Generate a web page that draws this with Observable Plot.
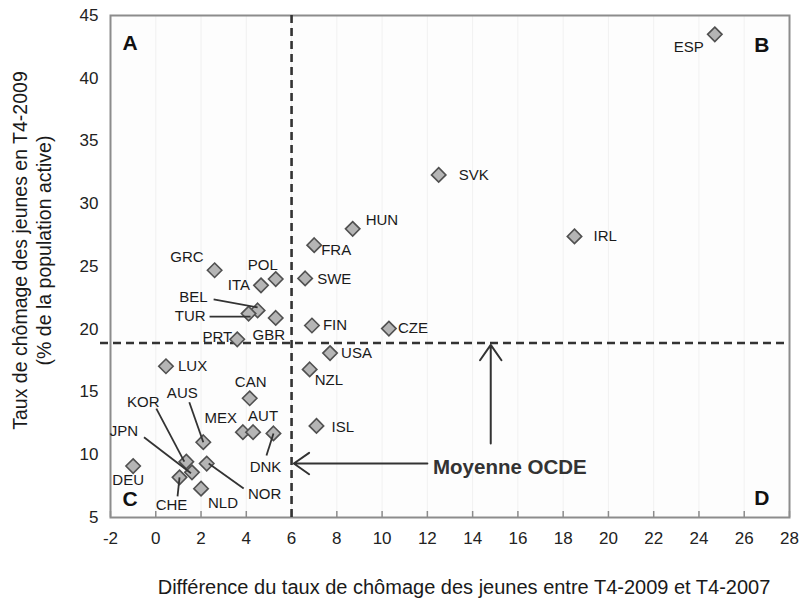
<!DOCTYPE html>
<html>
<head>
<meta charset="utf-8">
<script src="https://cdn.jsdelivr.net/npm/d3@7"></script>
<script src="https://cdn.jsdelivr.net/npm/@observablehq/plot@0.6"></script>
<style>
  html, body { margin: 0; padding: 0; background: #ffffff; }
  #chart { width: 799px; height: 602px; }
</style>
</head>
<body>
<div id="chart"></div>
<script>
// ---- Data ----
const countries = ["ESP","SVK","IRL","HUN","FRA","SWE","POL","ITA","GRC","BEL","TUR","GBR","PRT","FIN","CZE","USA","NZL","LUX","CAN","MEX","AUT","DNK","AUS","KOR","NOR","JPN","CHE","NLD","DEU","ISL"];
const change2007to2009 = [24.7,12.5,18.5,8.7,7.0,6.6,5.3,4.65,2.6,4.5,4.1,5.3,3.6,6.9,10.3,7.7,6.8,0.45,4.15,3.85,4.3,5.2,2.1,1.35,2.25,1.6,1.05,2.0,-1.0,7.1];
const youthRate2009 = [43.5,32.3,27.4,28.0,26.7,24.05,24.0,23.5,24.7,21.5,21.25,20.9,19.2,20.3,20.05,18.1,16.8,17.05,14.5,11.8,11.8,11.7,11.0,9.45,9.3,8.6,8.2,7.3,9.1,12.3];
const oecdMeanChange = 6.0;
const oecdMeanRate = 18.9;
const xTicks = [-2,0,2,4,6,8,10,12,14,16,18,20,22,24,26,28];
const yTicks = [5,10,15,20,25,30,35,40,45];
const quadrantLetters = ["A","B","C","D"];
const xTitle = "Différence du taux de chômage des jeunes entre T4-2009 et T4-2007";
const yTitle = "Taux de chômage des jeunes en T4-2009\n(% de la population active)";
const meanLabel = "Moyenne OCDE";
// annotation arrows (data units)
const meanArrows = [
  {x1: 12.0, y1: 9.3, x2: 6.1, y2: 9.3},
  {x1: 14.8, y1: 10.9, x2: 14.8, y2: 18.75}
];
const meanLabelPos = [{x: 12.25, y: 9.0}];

// ---- Layout / style (pixel offsets for labels) ----
const W = 799, H = 602, ML = 110, MR = 10, MT = 15, MB = 85;
const labelStyle = {
  ESP:{a:"end",dx:-11,dy:13}, SVK:{a:"start",dx:20,dy:0}, IRL:{a:"start",dx:19,dy:0},
  HUN:{a:"start",dx:13,dy:-9}, FRA:{a:"start",dx:7,dy:5}, SWE:{a:"start",dx:12,dy:1},
  POL:{a:"middle",dx:-13,dy:-14}, ITA:{a:"end",dx:-11,dy:0}, GRC:{a:"end",dx:-11,dy:-13},
  GBR:{a:"middle",dx:-7,dy:17}, PRT:{a:"end",dx:-5,dy:-2}, FIN:{a:"start",dx:11,dy:0},
  CZE:{a:"start",dx:9,dy:0}, USA:{a:"start",dx:11,dy:0}, NZL:{a:"start",dx:5,dy:11},
  LUX:{a:"start",dx:12,dy:0}, CAN:{a:"middle",dx:1,dy:-16}, MEX:{a:"end",dx:-6,dy:-14},
  AUT:{a:"middle",dx:10,dy:-16}, ISL:{a:"start",dx:15,dy:1}, NLD:{a:"start",dx:7,dy:15},
  DEU:{a:"middle",dx:-5,dy:14},
  BEL:{a:"end",dx:-50,dy:-13,l:[-44,-11,0,-3]}, TUR:{a:"end",dx:-43,dy:3,l:[-39,3,2,3]},
  DNK:{a:"middle",dx:-8,dy:34,l:[-7,22,0,0]}, AUS:{a:"middle",dx:-21,dy:-49,l:[-14,-40,0,0]},
  KOR:{a:"middle",dx:-43,dy:-59,l:[-30,-53,-2,0]}, JPN:{a:"middle",dx:-68,dy:-41,l:[-48,-35,-1,1]},
  CHE:{a:"middle",dx:-8,dy:28,l:[-2,19,0,0]}, NOR:{a:"middle",dx:58,dy:31,l:[37,25,2,0]}
};

const sx = Plot.scale({x: {domain: [-2, 28], range: [ML, W - MR]}});
const sy = Plot.scale({y: {domain: [5, 45], range: [H - MB, MT]}});
const px = (v, d) => sx.invert(sx.apply(v) + d);
const py = (v, d) => sy.invert(sy.apply(v) + d);

const pts = countries.map((c, i) => ({c, x: change2007to2009[i], y: youthRate2009[i]}));
const labels = pts.map(p => {
  const s = labelStyle[p.c];
  return {c: p.c, a: s.a, x: px(p.x, s.dx), y: py(p.y, s.dy)};
});
const leaders = pts.filter(p => labelStyle[p.c].l).map(p => {
  const l = labelStyle[p.c].l;
  return {x1: px(p.x, l[0]), y1: py(p.y, l[1]), x2: px(p.x, l[2]), y2: py(p.y, l[3])};
});

const FONT = "'Liberation Sans', Arial, sans-serif";
const dark = "#333333";

const chart = Plot.plot({
  width: W, height: H,
  marginLeft: ML, marginRight: MR, marginTop: MT, marginBottom: MB,
  style: {fontFamily: FONT, background: "#ffffff", color: "#222"},
  x: {domain: [-2, 28]},
  y: {domain: [5, 45]},
  marks: [
    Plot.frame({fill: "#fdfdfd"}),
    Plot.ruleX(xTicks.slice(1, -1), {stroke: "#f1f1f1", strokeWidth: 1}),
    // inward x tick marks
    Plot.axisX({ticks: xTicks, tickSize: 6, dy: -6, text: null, stroke: "#8c8c8c", strokeWidth: 1.5}),
    Plot.axisX({ticks: xTicks, tickSize: 0, tickPadding: 14, fontSize: 17, label: null, tickFormat: d => String(d)}),
    Plot.axisY({ticks: yTicks, tickSize: 0, tickPadding: 12, fontSize: 17, label: null}),
    Plot.frame({stroke: "#8c8c8c", strokeWidth: 2}),
    Plot.ruleX([oecdMeanChange], {stroke: dark, strokeWidth: 2.6, strokeDasharray: "8,5"}),
    Plot.ruleY([oecdMeanRate], {x1: px(-2, -10), x2: 28, stroke: dark, strokeWidth: 2.6, strokeDasharray: "8,5", clip: false}),
    Plot.arrow(meanArrows, {x1: "x1", y1: "y1", x2: "x2", y2: "y2", stroke: dark, strokeWidth: 2, headLength: 14, headAngle: 70}),
    Plot.text(meanLabelPos, {x: "x", y: "y", text: () => meanLabel, textAnchor: "start", fontSize: 20.5, fontWeight: "bold", fill: dark}),
    Plot.dot(pts, {x: "x", y: "y", symbol: "diamond2", r: 6.5, fill: "#b5b5b5", stroke: "#505050", strokeWidth: 1.6}),
    Plot.link(leaders, {x1: "x1", y1: "y1", x2: "x2", y2: "y2", stroke: dark, strokeWidth: 1.8}),
    Plot.text(labels.filter(d => d.a === "start"), {x: "x", y: "y", text: "c", textAnchor: "start", fontSize: 15, fill: "#1a1a1a"}),
    Plot.text(labels.filter(d => d.a === "end"), {x: "x", y: "y", text: "c", textAnchor: "end", fontSize: 15, fill: "#1a1a1a"}),
    Plot.text(labels.filter(d => d.a === "middle"), {x: "x", y: "y", text: "c", textAnchor: "middle", fontSize: 15, fill: "#1a1a1a"}),
    Plot.text([quadrantLetters[0]], {frameAnchor: "top-left", dx: 12, dy: 20, text: d => d, fontSize: 21, fontWeight: "bold", fill: "#111"}),
    Plot.text([quadrantLetters[1]], {frameAnchor: "top-right", dx: -20, dy: 22, text: d => d, fontSize: 21, fontWeight: "bold", fill: "#111"}),
    Plot.text([quadrantLetters[2]], {frameAnchor: "bottom-left", dx: 12, dy: -12, text: d => d, fontSize: 21, fontWeight: "bold", fill: "#111"}),
    Plot.text([quadrantLetters[3]], {frameAnchor: "bottom-right", dx: -20, dy: -13, text: d => d, fontSize: 21, fontWeight: "bold", fill: "#111"}),
    Plot.text([xTitle], {frameAnchor: "bottom", dx: 14, dy: 76, text: d => d, fontSize: 20, fill: "#1a1a1a"}),
    Plot.text([yTitle], {frameAnchor: "left", dx: -79, dy: -16, rotate: -90, textAnchor: "middle", text: d => d, fontSize: 19.5, lineHeight: 1.2, fill: "#1a1a1a"})
  ]
});
document.getElementById("chart").appendChild(chart);
</script>
</body>
</html>
